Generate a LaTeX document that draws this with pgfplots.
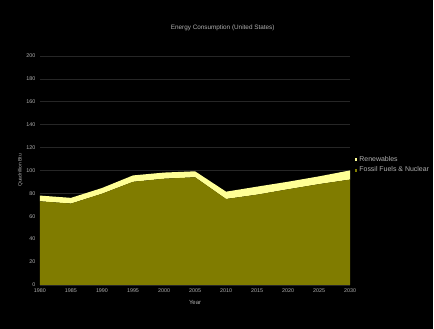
\documentclass[border=0pt]{standalone}
\usepackage{fontspec}
\setmainfont{Liberation Sans}
\usepackage{pgfplots}
\pgfplotsset{compat=1.18}
\definecolor{fossil}{RGB}{128,124,0}
\definecolor{renew}{RGB}{255,255,150}
\definecolor{txt}{RGB}{175,175,175}
\definecolor{gridc}{RGB}{38,38,38}
\begin{document}
\begin{tikzpicture}[x=1bp,y=1bp]
\fill[black] (0,0) rectangle (434,329);
\begin{axis}[
  at={(40bp,43.7bp)}, anchor=south west, scale only axis,
  width=310.7bp, height=229.3bp,
  xmin=1980, xmax=2030, ymin=0, ymax=200,
  xtick={1980,1985,...,2030}, ytick={0,20,...,200},
  stack plots=y,
  ymajorgrids, major grid style={color=gridc, line width=0.5pt},
  axis line style={draw=none}, tick style={draw=none},
  /pgf/number format/assume math mode=true,
  /pgf/number format/set thousands separator={},
  ticklabel style={font=\fontsize{5.4}{6}\selectfont, color=txt},
  yticklabel style={xshift=-1bp},
  title={Energy Consumption (United States)},
  title style={font=\fontsize{6.4}{7}\selectfont, color=txt, at={(0.589,1)}, anchor=south, yshift=16bp},
  xlabel={Year},
  xlabel style={font=\fontsize{6}{7}\selectfont, color=txt, yshift=-1bp},
  ylabel={Quadrillion Btu},
  ylabel style={font=\fontsize{5}{6}\selectfont, color=txt, yshift=-3bp},
  legend style={draw=none, fill=none, text=txt, font=\fontsize{7}{8}\selectfont,
    at={(1.004,0.524)}, anchor=west, row sep=0bp},
  legend cell align=left,
  reverse legend,
  legend image code/.code={\fill[#1] (0bp,-1.4bp) rectangle (2.8bp,1.4bp);},
]
\addplot[draw=none, fill=fossil] coordinates {
 (1980,73) (1985,71) (1990,79.6) (1995,90) (2000,92.7) (2005,94)
 (2010,75) (2015,78.8) (2020,83.5) (2025,88) (2030,92)} \closedcycle;
\addlegendentry{Fossil Fuels \& Nuclear}
\addplot[draw=none, fill=renew] coordinates {
 (1980,5) (1985,5) (1990,5) (1995,5.6) (2000,5.4) (2005,5.2)
 (2010,6.4) (2015,7) (2020,6.6) (2025,6.8) (2030,8)} \closedcycle;
\addlegendentry{Renewables}
\end{axis}
\end{tikzpicture}
\end{document}
